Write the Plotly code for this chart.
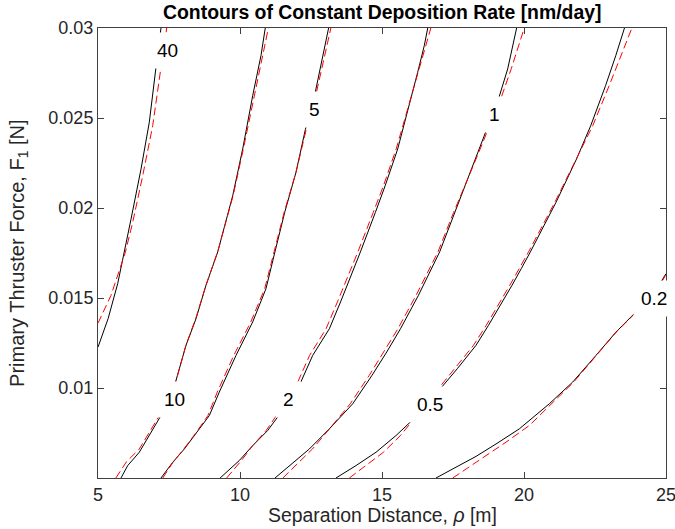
import plotly.graph_objects as go

# Contour levels of deposition rate [nm/day]
levels = ["40", "10", "5", "2", "1", "0.5", "0.2"]

# Numerical contours (black): separation distance rho [m] and thruster force F1 [N]
num_rho = {
    "40": [5.0, 5.355, 5.694, 5.93, 6.162, 6.514, 6.806, 7.042, 7.218],
    "10": [5.81, 6.046, 6.454, 6.926, 7.218, 7.746, 8.099, 8.451, 8.803, 9.215, 9.743, 10.095, 10.447, 10.739, 10.89],
    "5": [7.218, 7.63, 8.039, 8.451, 8.92, 9.27, 9.859, 10.447, 10.915, 11.23, 11.58, 11.97, 12.3, 12.62, 12.91, 13.12],
    "2": [9.3, 9.975, 10.447, 10.975, 11.384, 12.088, 12.56, 13.146, 13.54, 13.88, 14.24, 14.765, 15.11, 15.553, 15.96, 16.257, 16.49, 16.61],
    "1": [11.232, 11.736, 12.44, 13.146, 13.968, 14.647, 15.167, 15.651, 16.283, 17.03, 17.56, 17.97, 18.26, 18.68, 19.12, 19.426, 19.74],
    "0.5": [13.38, 14.085, 14.789, 15.493, 16.02, 17.05, 17.65, 18.31, 18.748, 19.17, 19.579, 19.903, 20.224, 21.123, 21.849, 22.349, 22.873, 23.232, 23.538],
    "0.2": [16.9, 18.31, 19.014, 19.835, 20.89, 21.715, 22.535, 23.24, 23.88, 24.82, 25.0],
}
num_force = {
    "40": [0.01227, 0.01385, 0.0158, 0.01752, 0.01938, 0.02216, 0.02476, 0.02782, 0.03],
    "10": [0.005, 0.00569, 0.00643, 0.00773, 0.00847, 0.01042, 0.01237, 0.01385, 0.01571, 0.01756, 0.02068, 0.02328, 0.02624, 0.02847, 0.03],
    "5": [0.005, 0.00587, 0.00661, 0.00745, 0.00847, 0.00977, 0.01181, 0.01367, 0.01552, 0.01756, 0.01979, 0.02197, 0.02435, 0.0262, 0.02829, 0.03],
    "2": [0.005, 0.00597, 0.0068, 0.00764, 0.00851, 0.01014, 0.01181, 0.01329, 0.01478, 0.01608, 0.01756, 0.01975, 0.02123, 0.02328, 0.02569, 0.02754, 0.02903, 0.03],
    "1": [0.005, 0.00569, 0.00661, 0.00773, 0.00912, 0.0107, 0.012, 0.01329, 0.01515, 0.01756, 0.01975, 0.02142, 0.0226, 0.0243, 0.02615, 0.02773, 0.03],
    "0.5": [0.005, 0.00569, 0.00643, 0.00736, 0.00814, 0.00995, 0.01107, 0.01237, 0.01348, 0.01459, 0.01571, 0.01663, 0.01756, 0.0203, 0.02272, 0.02457, 0.0268, 0.02847, 0.03],
    "0.2": [0.005, 0.0062, 0.00689, 0.00773, 0.00912, 0.01033, 0.01181, 0.01311, 0.01413, 0.01589, 0.01635],
}

# Analytical approximation (red dashed)
fit_rho = {
    "40": [5.0, 5.458, 5.96, 6.22, 6.574, 6.926, 7.218, 7.42],
    "10": [5.63, 6.0, 6.45, 6.93, 7.25, 7.75, 8.1, 8.45, 8.8, 9.22, 9.76, 10.12, 10.5, 10.82, 11.0],
    "5": [7.28, 7.64, 8.02, 8.42, 8.87, 9.2, 9.78, 10.38, 10.87, 11.2, 11.56, 11.97, 12.33, 12.66, 12.96, 13.2],
    "2": [9.53, 10.05, 10.45, 10.92, 11.3, 11.98, 12.45, 13.03, 13.43, 13.78, 14.15, 14.69, 15.05, 15.5, 15.93, 16.26, 16.53, 16.72],
    "1": [11.51, 11.95, 12.55, 13.15, 13.88, 14.55, 15.07, 15.56, 16.2, 16.97, 17.52, 17.95, 18.28, 18.72, 19.2, 19.55, 20.01],
    "0.5": [13.85, 14.45, 15.05, 15.65, 16.05, 16.98, 17.58, 18.22, 18.67, 19.09, 19.5, 19.83, 20.16, 21.08, 21.85, 22.42, 23.0, 23.42, 23.8],
    "0.2": [17.49, 18.31, 19.366, 20.19, 21.01, 21.75, 22.55, 23.25, 23.9, 24.85, 25.0],
}
fit_force = {
    "40": [0.0136, 0.01515, 0.01752, 0.01919, 0.02179, 0.02457, 0.02782, 0.03],
    "10": [0.005, 0.0059, 0.0066, 0.0079, 0.0087, 0.0104, 0.0124, 0.0139, 0.0157, 0.0176, 0.0207, 0.0233, 0.0262, 0.0285, 0.03],
    "5": num_force["5"],
    "2": num_force["2"],
    "1": num_force["1"],
    "0.5": num_force["0.5"],
    "0.2": [0.005, 0.00587, 0.00699, 0.00792, 0.00921, 0.01033, 0.01181, 0.01311, 0.01413, 0.01589, 0.0163],
}

# Where each contour label sits (rho, F1)
label_at = {
    "40": (7.447, 0.02875),
    "10": (7.70, 0.00938),
    "5": (12.606, 0.02548),
    "2": (11.715, 0.00935),
    "1": (18.95, 0.02522),
    "0.5": (16.697, 0.00909),
    "0.2": (24.59, 0.01498),
}

FONT = "Liberation Sans, Arial, Helvetica, sans-serif"
AXIS_GREY = "#262626"

fig = go.Figure()
for lv in levels:
    fig.add_trace(go.Scatter(
        x=num_rho[lv], y=num_force[lv], mode="lines",
        line=dict(color="black", width=1), showlegend=False, hoverinfo="skip"))
for lv in levels:
    fig.add_trace(go.Scatter(
        x=fit_rho[lv], y=fit_force[lv], mode="lines",
        line=dict(color="#ff0000", width=1, dash="8px,4px"), showlegend=False, hoverinfo="skip"))

annotations = []
for lv in levels:
    lx, ly = label_at[lv]
    annotations.append(dict(
        x=lx, y=ly, xref="x", yref="y", text=lv, showarrow=False,
        font=dict(family=FONT, size=19, color="black"),
        bgcolor="white", borderpad=7, xanchor="center", yanchor="middle"))

annotations += [
    dict(text="<b>Contours of Constant Deposition Rate [nm/day]</b>", xref="paper", yref="paper",
         x=0.5, y=1.036, xanchor="center", yanchor="middle", showarrow=False,
         font=dict(family=FONT, size=19.4, color="black")),
    dict(text="Separation Distance, <i>ρ</i> [m]", xref="paper", yref="paper",
         x=0.5, y=-0.082, xanchor="center", yanchor="middle", showarrow=False,
         font=dict(family=FONT, size=19.4, color=AXIS_GREY)),
    dict(text="Primary Thruster Force, F<sub>1</sub> [N]", xref="paper", yref="paper",
         x=-0.141, y=0.5, xanchor="center", yanchor="middle", showarrow=False, textangle=-90,
         font=dict(family=FONT, size=20, color=AXIS_GREY)),
]

axis_common = dict(
    showgrid=False, zeroline=False, showline=True, linecolor="#404040", linewidth=1,
    mirror="ticks", ticks="inside", ticklen=6, tickcolor="#404040", tickwidth=1,
    tickfont=dict(family=FONT, size=18, color=AXIS_GREY), ticklabeloverflow="allow",
    automargin=False,
)

fig.update_layout(
    width=675, height=529,
    margin=dict(l=98, r=9, t=28, b=51),
    paper_bgcolor="white", plot_bgcolor="white",
    xaxis=dict(range=[5, 25], tickvals=[5, 10, 15, 20, 25], ticktext=["5", "10", "15", "20", "25"], **axis_common),
    yaxis=dict(range=[0.005, 0.03], tickvals=[0.01, 0.015, 0.02, 0.025, 0.03],
               ticktext=["0.01", "0.015", "0.02", "0.025", "0.03"], **axis_common),
    annotations=annotations,
)

fig.write_html("out.html")
